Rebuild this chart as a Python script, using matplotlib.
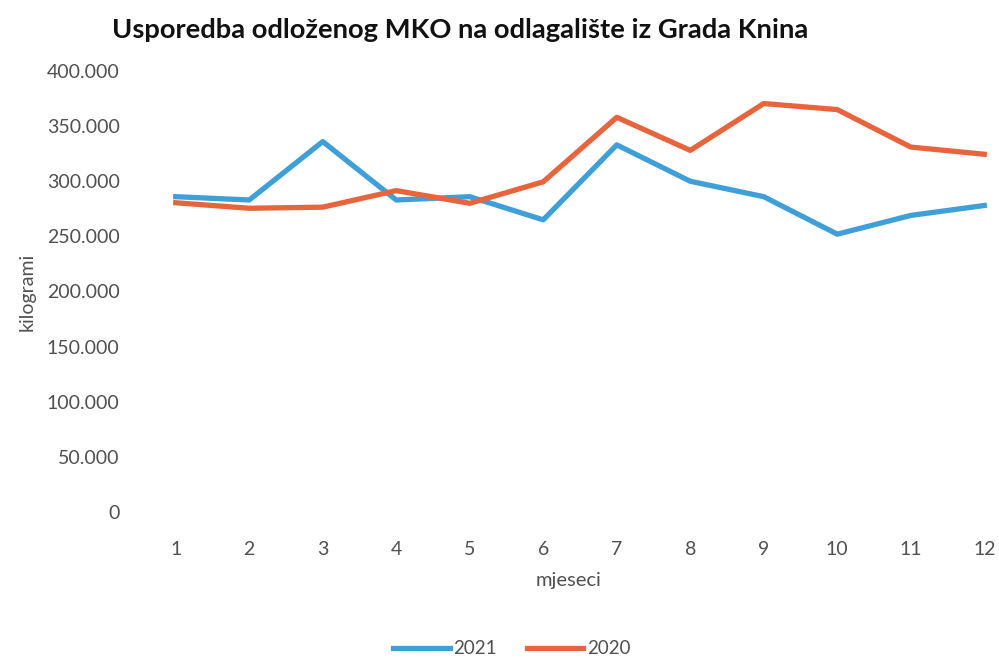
import matplotlib.pyplot as plt
from matplotlib.ticker import FuncFormatter

# mjeseci
mjeseci = list(range(1, 13))
# odloženi MKO u kg (procjena s grafa)
kg_2021 = [286000, 283000, 336000, 283000, 286000, 265000, 333000, 300000, 286000, 252000, 269000, 278000]
kg_2020 = [280500, 275500, 276500, 291500, 280000, 299500, 358000, 328000, 370500, 365000, 331000, 324500]

plt.rcParams['font.family'] = ['Lato', 'DejaVu Sans']

fig = plt.figure(figsize=(9.99, 6.59), dpi=100)
ax = fig.add_axes([139 / 999, 147 / 659, 860 / 999, 441 / 659])

ax.plot(mjeseci, kg_2021, color='#3f9fd8', lw=3.8, label='2021', solid_joinstyle='round')
ax.plot(mjeseci, kg_2020, color='#e8643c', lw=3.8, label='2020', solid_joinstyle='round')

ax.set_xlim(0.5, 0.5 + 860 / 73.5)
ax.set_ylim(0, 400000)
ax.set_xticks(mjeseci)
ax.set_yticks(range(0, 400001, 50000))
ax.yaxis.set_major_formatter(FuncFormatter(lambda v, p: f'{int(v):,}'.replace(',', '.')))

for s in ax.spines.values():
    s.set_visible(False)
ax.tick_params(length=0, labelsize=14, colors='#505050')
ax.tick_params(axis='x', pad=21)
ax.tick_params(axis='y', pad=14)

ax.set_xlabel('mjeseci', fontsize=14.5, color='#505050', labelpad=10)
ax.set_ylabel('kilogrami', fontsize=14, color='#505050', labelpad=8)

fig.text(0.461, 0.955, 'Usporedba odloženog MKO na odlagalište iz Grada Knina',
         ha='center', va='center', fontsize=19.7, fontweight='bold', color='#111111')

ax.legend(loc='center', bbox_to_anchor=(512 / 999, 10 / 659), bbox_transform=fig.transFigure,
          ncol=2, frameon=False, fontsize=13.5, handlelength=3.0, columnspacing=1.6,
          handletextpad=0.2, labelcolor='#505050')

fig.savefig('out.png', dpi=100)
